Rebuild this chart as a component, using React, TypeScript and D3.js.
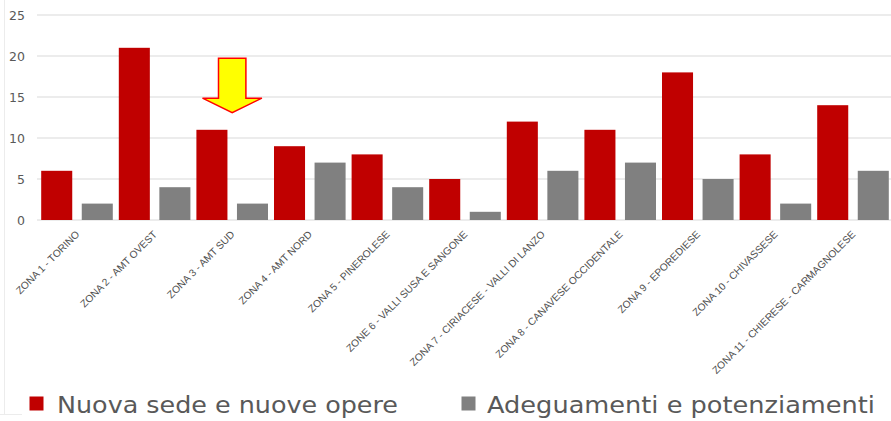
import React from "react";
import * as d3 from "d3";

const zones = [
  "ZONA 1 - TORINO",
  "ZONA 2 - AMT OVEST",
  "ZONA 3 - AMT SUD",
  "ZONA 4 - AMT NORD",
  "ZONA 5 - PINEROLESE",
  "ZONE 6 - VALLI SUSA E SANGONE",
  "ZONA 7 - CIRIACESE - VALLI DI LANZO",
  "ZONA 8 - CANAVESE OCCIDENTALE",
  "ZONA 9 - EPOREDIESE",
  "ZONA 10 - CHIVASSESE",
  "ZONA 11 - CHIERESE - CARMAGNOLESE",
];
const nuovaSede = [6, 21, 11, 9, 8, 5, 12, 11, 18, 8, 14];
const adeguamenti = [2, 4, 2, 7, 4, 1, 6, 7, 5, 2, 6];
const seriesNames = ["Nuova sede e nuove opere", "Adeguamenti e potenziamenti"];
const seriesColors = ["#C00000", "#808080"];
const yTicks = [0, 5, 10, 15, 20, 25];
const highlightZone = "ZONA 3 - AMT SUD";

const W = 891;
const H = 421;

export default function App() {
  const x = d3.scaleBand<string>().domain(zones).range([38.2, 891.8]).padding(0);
  const xs = d3
    .scaleBand<number>()
    .domain([0, 1])
    .range([0, x.bandwidth()])
    .paddingInner(0.2346)
    .paddingOuter(0.074);
  const y = d3.scaleLinear().domain([0, 25]).range([220, 15]);
  const series = [nuovaSede, adeguamenti];
  const textColor = "#595959";

  // arrow annotation over highlighted zone
  const ax = (x(highlightZone) as number) + x.bandwidth() / 2;
  const tipY = y(13.1);
  const arrowPath = d3.path();
  arrowPath.moveTo(ax - 13.7, tipY - 54.4);
  arrowPath.lineTo(ax + 13.7, tipY - 54.4);
  arrowPath.lineTo(ax + 13.7, tipY - 14.4);
  arrowPath.lineTo(ax + 29.7, tipY - 14.4);
  arrowPath.lineTo(ax, tipY);
  arrowPath.lineTo(ax - 29.7, tipY - 14.4);
  arrowPath.lineTo(ax - 13.7, tipY - 14.4);
  arrowPath.closePath();

  return (
    <svg
      width={W}
      height={H}
      style={{ position: "absolute", left: 0, top: 0, background: "#fff" }}
    >
      <rect x={0} y={0} width={W} height={H} fill="#fff" />
      <line x1={4.5} x2={4.5} y1={0} y2={414} stroke="#ECECEC" />
      <line x1={0} x2={22} y1={414.5} y2={414.5} stroke="#ECECEC" />
      {yTicks.map((t) => (
        <g key={t}>
          <line x1={37} x2={891} y1={y(t)} y2={y(t)} stroke="#D9D9D9" strokeWidth={1} />
          <text
            x={25}
            y={y(t)}
            dy="0.36em"
            textAnchor="end"
            fontFamily="DejaVu Sans"
            fontSize={12.5}
            fill={textColor}
          >
            {t}
          </text>
        </g>
      ))}
      {zones.map((z, i) => (
        <g key={z}>
          {series.map((s, si) => (
            <rect
              key={si}
              x={(x(z) as number) + (xs(si) as number)}
              y={y(s[i])}
              width={xs.bandwidth()}
              height={y(0) - y(s[i])}
              fill={seriesColors[si]}
            />
          ))}
          <text
            transform={`translate(${(x(z) as number) + x.bandwidth() / 2 + 3},${235}) rotate(-45)`}
            textAnchor="end"
            fontFamily="Liberation Sans"
            fontSize={10.2}
            fill="#505050"
          >
            {z}
          </text>
        </g>
      ))}
      <path d={arrowPath.toString()} fill="#FFFF00" stroke="#FF0000" strokeWidth={1.5} />
      {/* legend */}
      <rect x={29.5} y={396.5} width={14} height={14} fill={seriesColors[0]} />
      <text
        x={57}
        y={412.5}
        fontFamily="DejaVu Sans"
        fontSize={23}
        fill={textColor}
        textLength={341}
        lengthAdjust="spacingAndGlyphs"
      >
        {seriesNames[0]}
      </text>
      <rect x={461.5} y={396.5} width={14} height={14} fill={seriesColors[1]} />
      <text
        x={487}
        y={412.5}
        fontFamily="DejaVu Sans"
        fontSize={23}
        fill={textColor}
        textLength={388}
        lengthAdjust="spacingAndGlyphs"
      >
        {seriesNames[1]}
      </text>
    </svg>
  );
}
